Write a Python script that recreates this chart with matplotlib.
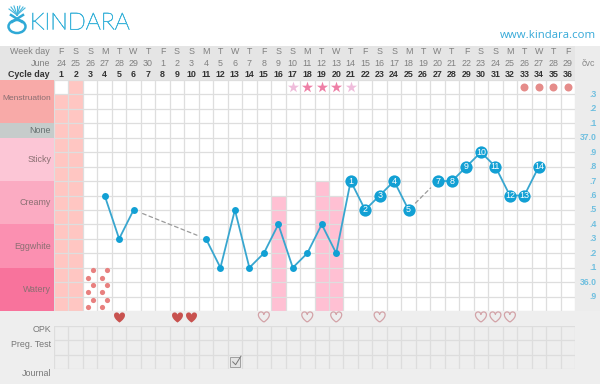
import numpy as np
import matplotlib.pyplot as plt
import matplotlib.patheffects as pe
from matplotlib.path import Path
from matplotlib.patches import Rectangle, Ellipse

plt.rcParams['font.family'] = ['Liberation Sans', 'DejaVu Sans']

# Data
days = list(range(1, 37))
week_days = ["F", "S", "S", "M", "T", "W", "T", "F", "S", "S", "M", "T", "W", "T", "F", "S", "S", "M",
             "T", "W", "T", "F", "S", "S", "M", "T", "W", "T", "F", "S", "S", "M", "T", "W", "T", "F"]
month_days = [24, 25, 26, 27, 28, 29, 30, 1, 2, 3, 4, 5, 6, 7, 8, 9, 10, 11,
              12, 13, 14, 15, 16, 17, 18, 19, 20, 21, 22, 23, 24, 25, 26, 27, 28, 29]

temp_days = [4, 5, 6, 11, 12, 13, 14, 15, 16, 17, 18, 19, 20, 21, 22, 23, 24, 25, 27, 28, 29, 30, 31, 32, 33, 34]
temps = [36.6, 36.3, 36.5, 36.3, 36.1, 36.5, 36.1, 36.2, 36.4, 36.1, 36.2, 36.4, 36.2,
         36.7, 36.5, 36.6, 36.7, 36.5, 36.7, 36.7, 36.8, 36.9, 36.8, 36.6, 36.6, 36.8]
temp_numbers = {21: 1, 22: 2, 23: 3, 24: 4, 25: 5, 27: 7, 28: 8, 29: 9, 30: 10, 31: 11, 32: 12, 33: 13, 34: 14}

temp_labels = [".3", ".2", ".1", "37.0", ".9", ".8", ".7", ".6", ".5", ".4", ".3", ".2", ".1", "36.0", ".9"]
temp_ticks = [37.3, 37.2, 37.1, 37.0, 36.9, 36.8, 36.7, 36.6, 36.5, 36.4, 36.3, 36.2, 36.1, 36.0, 35.9]

fluid_names = ["Menstruation", "None", "Sticky", "Creamy", "Eggwhite", "Watery"]
fluid_tops = [37.4, 37.1, 37.0, 36.7, 36.4, 36.1]
fluid_bottoms = [37.1, 37.0, 36.7, 36.4, 36.1, 35.8]
fluid_colors = ["#f8aaa8", "#c6cccb", "#fcc6d6", "#fbabc2", "#fb90b1", "#f8739c"]

flow_days = [1, 2]
flow_tops = [37.3, 37.4]
pink_days = [16, 19, 20]
pink_tops = [36.6, 36.7, 36.6]
spot_days = [3, 4]
star_dark = [18, 19, 20]
star_light = [17, 21]
circle_days = [33, 34, 35, 36]
heart_filled = [5, 9, 10]
heart_open = [15, 18, 20, 23, 30, 31, 32]
journal_days = [13]

# Pixel helpers for the layout
W, H = 600, 384
X0, X1 = 54, 575
Y0, Y1 = 80, 311
FS = 6.4

fig = plt.figure(figsize=(6, 3.84), dpi=100)

# Background axes in pixels for the page chrome
bg = fig.add_axes([0, 0, 1, 1], zorder=0)
bg.set_xlim(0, W)
bg.set_ylim(H, 0)
bg.axis("off")
bg.add_patch(Rectangle((0, 46), W, 34, color="#ececec", lw=0))
bg.add_patch(Rectangle((0, 46), X1, 34, color="#e5e5e5", lw=0))
bg.add_patch(Rectangle((X1, 80), W - X1, 231, color="#ececec", lw=0))
bg.add_patch(Rectangle((0, Y1), W, H - Y1, color="#eeeeee", lw=0))

# Logo
logo = bg.text(30, 23, "KINDARA", fontsize=17, family="Lato", weight="light", color="#3eb4da", va="center", ha="left")
logo.set_path_effects([pe.withStroke(linewidth=0.45, foreground="#3eb4da")])
bg.add_patch(Ellipse((17, 26.5), 17, 13, fill=False, ec="#2fa9d6", lw=1.8))
bg.plot([11, 22], [15, 22], color="#2fa9d6", lw=1.8)
bg.plot([23, 12], [15, 22], color="#2fa9d6", lw=1.8)
for tip in [(9, 9), (11, 7), (14, 6), (17, 6), (20, 6), (23, 7), (25, 8)]:
    bg.plot([17, tip[0]], [15, tip[1]], color="#45b6dc", lw=0.8)

bg.text(596, 35, "www.kindara.com", fontsize=8.2, family="Open Sans", color="#35a9d8", ha="right", va="center")
bg.text(588, 63, "čvc", fontsize=FS, color="#888888", ha="center", va="center")

# Main axes: days across, temperature up
ax = fig.add_axes([X0 / W, 1 - Y1 / H, (X1 - X0) / W, (Y1 - Y0) / H], zorder=1)
ax.set_xlim(0.5, 36.5)
ax.set_ylim(35.8, 37.4)
ax.set_facecolor("white")
for s in ax.spines.values():
    s.set_visible(False)
ax.set_xticks(np.arange(0.5, 37, 1))
ax.set_yticks(np.arange(35.8, 37.45, 0.1))
ax.tick_params(length=0, labelbottom=False, labelleft=False)
ax.grid(True, color="#dedede", lw=0.9, zorder=3)
ax.set_axisbelow(False)

# Left band labels
for name, top, bottom, color in zip(fluid_names, fluid_tops, fluid_bottoms, fluid_colors):
    ax.add_patch(Rectangle((-3.25, bottom), 3.75, top - bottom, color=color, lw=0, clip_on=False, zorder=1))
    text_color = "#8a6f72" if name != "None" else "#667070"
    label_y = (top + bottom) / 2
    label_size = FS
    if name == "Menstruation":
        label_y = 37.27
        label_size = 6.05
    if name == "Eggwhite":
        label_y = 36.25
    if name == "Watery":
        label_y = 35.95
    ax.text(0.3, label_y, name, fontsize=label_size, color=text_color, ha="right", va="center", clip_on=False, zorder=5)

# Shaded days
for d, top in zip(flow_days, flow_tops):
    ax.bar(d, top - 35.8, bottom=35.8, width=1, color="#ffc6c2", zorder=2)
for d, top in zip(pink_days, pink_tops):
    ax.bar(d, top - 35.8, bottom=35.8, width=1, color="#ffc0d3", zorder=2)

# Spotting dots
for d in spot_days:
    ax.scatter([d + 0.18] * 3, [36.085, 35.98, 35.875], s=14, color="#e8807f", lw=0, zorder=4)
    ax.scatter([d - 0.17] * 3, [36.03, 35.93, 35.83], s=14, color="#e8807f", lw=0, zorder=4)

# Temperature line, broken where a day is missing
seg_x, seg_y = [temp_days[0]], [temps[0]]
for i in range(1, len(temp_days)):
    if temp_days[i] - temp_days[i - 1] > 1:
        ax.plot(seg_x, seg_y, color="#38a6cf", lw=1.3, zorder=5)
        ax.annotate("", xy=(temp_days[i], temps[i]), xytext=(temp_days[i - 1], temps[i - 1]),
                    arrowprops=dict(arrowstyle="-", linestyle=(0, (3, 2.5)), color="#9a9a9a", lw=0.9, shrinkA=7, shrinkB=7),
                    zorder=5)
        seg_x, seg_y = [], []
    seg_x.append(temp_days[i])
    seg_y.append(temps[i])
ax.plot(seg_x, seg_y, color="#38a6cf", lw=1.3, zorder=5)

for d, t in zip(temp_days, temps):
    if d in temp_numbers:
        ax.scatter(d, t, s=78, color="#12a0d4", lw=0, zorder=6)
        ax.text(d, t, str(temp_numbers[d]), fontsize=FS, color="white", ha="center", va="center", zorder=7)
    else:
        ax.scatter(d, t, s=25, color="#12a0d4", lw=0, zorder=6)

# Top row markers
ax.scatter(star_dark, [37.35] * len(star_dark), marker="*", s=72, color="#ee7fa6", lw=0, zorder=6)
ax.scatter(star_light, [37.35] * len(star_light), marker="*", s=72, color="#efbcdb", lw=0, zorder=6)
ax.scatter(circle_days, [37.35] * len(circle_days), s=33, color="#e58c8a", lw=0, zorder=6)

# Header rows use day for x and axes fraction for y
tr = ax.get_xaxis_transform()
for d, w, m in zip(days, week_days, month_days):
    ax.text(d, 1.122, w, transform=tr, fontsize=FS, color="#808080", ha="center", va="center", clip_on=False)
    ax.text(d, 1.073, str(m), transform=tr, fontsize=FS, color="#808080", ha="center", va="center", clip_on=False)
    ax.text(d, 1.024, str(d), transform=tr, fontsize=FS, weight="bold", color="#333333", ha="center", va="center", clip_on=False)
ax.text(0.22, 1.122, "Week day", transform=tr, fontsize=FS, color="#808080", ha="right", va="center", clip_on=False)
ax.text(0.22, 1.073, "June", transform=tr, fontsize=FS, color="#808080", ha="right", va="center", clip_on=False)
ax.text(0.22, 1.024, "Cycle day", transform=tr, fontsize=FS, weight="bold", color="#333333", ha="right", va="center", clip_on=False)

# Temperature scale on the right
for t, label in zip(temp_ticks, temp_labels):
    ax.text(38.0, t, label, fontsize=6.2, weight="bold", color="#6fbfdf", ha="right", va="center", clip_on=False)

# Hearts below the chart
heart = Path([(0, -1), (-1.5, 0.0), (-1.2, 1.0), (-0.55, 1.0), (-0.2, 1.0), (0, 0.7), (0, 0.5),
              (0, 0.7), (0.2, 1.0), (0.55, 1.0), (1.2, 1.0), (1.5, 0.0), (0, -1)],
             [Path.MOVETO] + [Path.CURVE4] * 12)
heart_y = -0.026
ax.scatter(heart_filled, [heart_y] * len(heart_filled), marker=heart, s=120, color="#c8524f", lw=0,
           transform=tr, clip_on=False, zorder=6)
ax.scatter(heart_open, [heart_y] * len(heart_open), marker=heart, s=120, facecolor="none", edgecolor="#d3a3a8",
           lw=0.9, transform=tr, clip_on=False, zorder=6)

# Bottom grid: OPK, Preg. Test and Journal rows
low = fig.add_axes([X0 / W, 1 - 369 / H, (X1 - X0) / W, 43 / H], zorder=1)
low.set_xlim(0.5, 36.5)
low.set_ylim(0, 3)
low.set_facecolor("#eeeeee")
low.set_xticks(np.arange(0.5, 37, 1))
low.set_yticks([0, 1, 2, 3])
low.tick_params(length=0, labelbottom=False, labelleft=False)
low.grid(True, color="#dddddd", lw=0.9)
for s in low.spines.values():
    s.set_visible(False)
for d in journal_days:
    low.add_patch(Rectangle((d - 0.33, 0.17), 0.66, 0.66, fc="#e4e4e4", ec="#a0a0a0", lw=0.7, zorder=4))
    low.plot([d - 0.15, d + 0.05, d + 0.42], [0.5, 0.3, 0.9], color="#777777", lw=0.7, zorder=5)

bg.text(51, 330, "OPK", fontsize=FS, color="#777777", ha="right", va="center")
bg.text(51, 344.5, "Preg. Test", fontsize=FS, color="#777777", ha="right", va="center")
bg.text(51, 373.5, "Journal", fontsize=FS, color="#777777", ha="right", va="center")

fig.savefig("out.png", dpi=100)
